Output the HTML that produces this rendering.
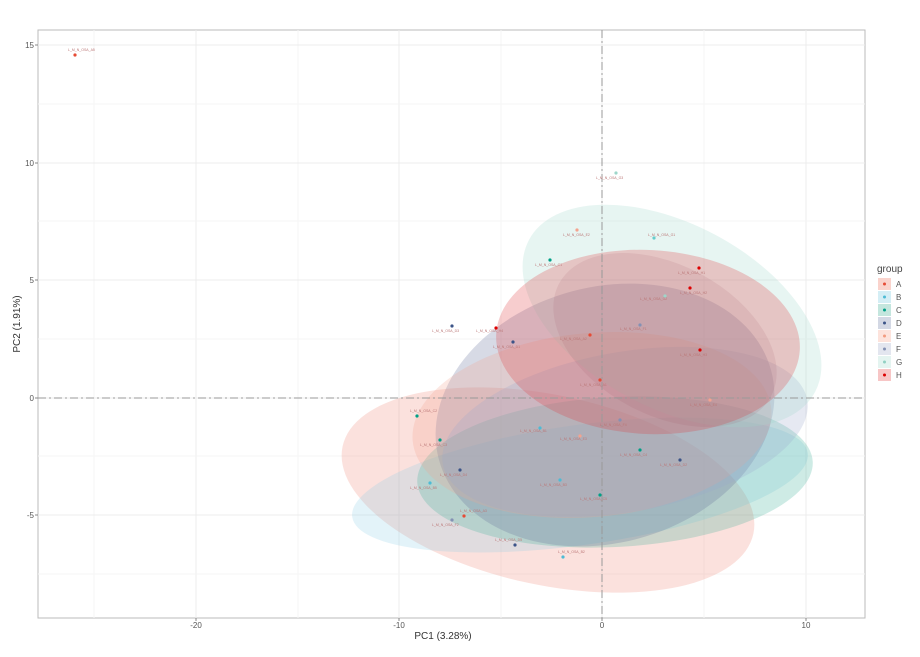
<!DOCTYPE html>
<html><head><meta charset="utf-8"><style>body{margin:0;background:#fff}svg{display:block;font-family:"Liberation Sans",sans-serif}</style></head><body>
<svg width="920" height="657" viewBox="0 0 920 657">
<rect x="38" y="30" width="827" height="588" fill="#fff" stroke="#bbb" stroke-width="1"/>
<g stroke="#ececec" stroke-width="1">
<line x1="196" y1="30" x2="196" y2="618"/><line x1="399" y1="30" x2="399" y2="618"/><line x1="602" y1="30" x2="602" y2="618"/><line x1="806" y1="30" x2="806" y2="618"/>
<line x1="94" y1="30" x2="94" y2="618" stroke="#f5f5f5"/><line x1="298" y1="30" x2="298" y2="618" stroke="#f5f5f5"/><line x1="501" y1="30" x2="501" y2="618" stroke="#f5f5f5"/><line x1="704" y1="30" x2="704" y2="618" stroke="#f5f5f5"/>
<line x1="38" y1="45" x2="865" y2="45"/><line x1="38" y1="163" x2="865" y2="163"/><line x1="38" y1="280" x2="865" y2="280"/><line x1="38" y1="398" x2="865" y2="398"/><line x1="38" y1="515" x2="865" y2="515"/>
<line x1="38" y1="104" x2="865" y2="104" stroke="#f5f5f5"/><line x1="38" y1="221" x2="865" y2="221" stroke="#f5f5f5"/><line x1="38" y1="339" x2="865" y2="339" stroke="#f5f5f5"/><line x1="38" y1="456" x2="865" y2="456" stroke="#f5f5f5"/><line x1="38" y1="574" x2="865" y2="574" stroke="#f5f5f5"/>
</g>
<g fill-opacity="0.25">
<ellipse cx="548" cy="490" rx="210" ry="95" transform="rotate(12 548 490)" fill="#F08878"/>
<ellipse cx="580" cy="485" rx="230" ry="60" transform="rotate(-8 580 485)" fill="#8ECFE6"/>
<ellipse cx="615" cy="472" rx="198" ry="75" transform="rotate(-3 615 472)" fill="#3AAF97"/>
<ellipse cx="605" cy="415" rx="172" ry="128" transform="rotate(-15 605 415)" fill="#5F6C96"/>
<ellipse cx="592" cy="425" rx="180" ry="92" transform="rotate(-5 592 425)" fill="#F4A38F"/>
<ellipse cx="625" cy="432" rx="185" ry="80" transform="rotate(-10 625 432)" fill="#9AA6CC"/>
<ellipse cx="672" cy="316" rx="162" ry="92" transform="rotate(28 672 316)" fill="#9ED6CA"/>
<ellipse cx="648" cy="342" rx="152" ry="92" transform="rotate(3 648 342)" fill="#E0383B"/>
<ellipse cx="665" cy="340" rx="120" ry="75" transform="rotate(28 665 340)" fill="#A05060" fill-opacity="0.12"/>
</g>
<g stroke="#999" stroke-dasharray="8,3,2,3" stroke-width="1"><line x1="602" y1="30" x2="602" y2="618"/><line x1="38" y1="398" x2="865" y2="398"/></g>
<g font-size="3.5" fill="#b77">
<text x="68" y="51">L_M_N_OSA_A5</text><circle cx="75" cy="55" r="1.6" fill="#E64B35"/>
<text x="596" y="179">L_M_N_OSA_G3</text><circle cx="616" cy="173" r="1.6" fill="#9ED6CA"/>
<text x="563" y="236">L_M_N_OSA_E2</text><circle cx="577" cy="230" r="1.6" fill="#F4A38F"/>
<text x="648" y="236">L_M_N_OSA_G1</text><circle cx="654" cy="238" r="1.6" fill="#6cc"/>
<text x="432" y="332">L_M_N_OSA_D3</text><circle cx="452" cy="326" r="1.6" fill="#3C5488"/>
<text x="678" y="274">L_M_N_OSA_H1</text><circle cx="699" cy="268" r="1.6" fill="#D00"/>
<text x="680" y="294">L_M_N_OSA_H2</text><circle cx="690" cy="288" r="1.6" fill="#D00"/>
<text x="410" y="412">L_M_N_OSA_C2</text><circle cx="417" cy="416" r="1.6" fill="#00A087"/>
<text x="460" y="512">L_M_N_OSA_A3</text><circle cx="464" cy="516" r="1.6" fill="#E64B35"/>
<text x="495" y="541">L_M_N_OSA_D5</text><circle cx="515" cy="545" r="1.6" fill="#3C5488"/>
<text x="558" y="553">L_M_N_OSA_B2</text><circle cx="563" cy="557" r="1.6" fill="#4DBBD5"/>
<text x="410" y="489">L_M_N_OSA_B5</text><circle cx="430" cy="483" r="1.6" fill="#4DBBD5"/>
<text x="432" y="526">L_M_N_OSA_F2</text><circle cx="452" cy="520" r="1.6" fill="#8491B4"/>
<text x="535" y="266">L_M_N_OSA_C1</text><circle cx="550" cy="260" r="1.6" fill="#00A087"/>
<text x="476" y="332">L_M_N_OSA_H4</text><circle cx="496" cy="328" r="1.6" fill="#D00"/>
<text x="493" y="348">L_M_N_OSA_D1</text><circle cx="513" cy="342" r="1.6" fill="#3C5488"/>
<text x="620" y="456">L_M_N_OSA_C4</text><circle cx="640" cy="450" r="1.6" fill="#00A087"/>
<text x="660" y="466">L_M_N_OSA_D2</text><circle cx="680" cy="460" r="1.6" fill="#3C5488"/>
<text x="580" y="386">L_M_N_OSA_A1</text><circle cx="600" cy="380" r="1.6" fill="#E64B35"/>
<text x="540" y="486">L_M_N_OSA_B3</text><circle cx="560" cy="480" r="1.6" fill="#4DBBD5"/>
<text x="600" y="426">L_M_N_OSA_F4</text><circle cx="620" cy="420" r="1.6" fill="#8491B4"/>
<text x="680" y="356">L_M_N_OSA_H3</text><circle cx="700" cy="350" r="1.6" fill="#D00"/>
<text x="440" y="476">L_M_N_OSA_D4</text><circle cx="460" cy="470" r="1.6" fill="#3C5488"/>
<text x="420" y="446">L_M_N_OSA_C3</text><circle cx="440" cy="440" r="1.6" fill="#00A087"/>
<text x="690" y="406">L_M_N_OSA_E4</text><circle cx="710" cy="400" r="1.6" fill="#F4A38F"/>
<text x="560" y="340">L_M_N_OSA_A2</text><circle cx="590" cy="335" r="1.6" fill="#E64B35"/>
<text x="640" y="300">L_M_N_OSA_G2</text><circle cx="665" cy="296" r="1.6" fill="#9ED6CA"/>
<text x="620" y="330">L_M_N_OSA_F1</text><circle cx="640" cy="325" r="1.6" fill="#8491B4"/>
<text x="560" y="440">L_M_N_OSA_E3</text><circle cx="580" cy="436" r="1.6" fill="#F4A38F"/>
<text x="580" y="500">L_M_N_OSA_C5</text><circle cx="600" cy="495" r="1.6" fill="#00A087"/>
<text x="520" y="432">L_M_N_OSA_B1</text><circle cx="540" cy="428" r="1.6" fill="#4DBBD5"/>
</g>
<g font-size="8" fill="#555" text-anchor="end">
<text x="34" y="48">15</text><text x="34" y="166">10</text><text x="34" y="283">5</text><text x="34" y="401">0</text><text x="34" y="518">-5</text>
</g>
<g font-size="8" fill="#555" text-anchor="middle">
<text x="196" y="628">-20</text><text x="399" y="628">-10</text><text x="602" y="628">0</text><text x="806" y="628">10</text>
</g>
<g stroke="#888"><line x1="35" y1="45" x2="38" y2="45"/><line x1="35" y1="163" x2="38" y2="163"/><line x1="35" y1="280" x2="38" y2="280"/><line x1="35" y1="398" x2="38" y2="398"/><line x1="35" y1="515" x2="38" y2="515"/>
<line x1="196" y1="618" x2="196" y2="621"/><line x1="399" y1="618" x2="399" y2="621"/><line x1="602" y1="618" x2="602" y2="621"/><line x1="806" y1="618" x2="806" y2="621"/></g>
<text x="443" y="639" font-size="10" fill="#333" text-anchor="middle">PC1 (3.28%)</text>
<text x="20" y="324" font-size="10" fill="#333" text-anchor="middle" transform="rotate(-90 20 324)">PC2 (1.91%)</text>
<text x="877" y="272" font-size="10" fill="#444">group</text>
<g font-size="8" fill="#555">
<rect x="878" y="278" width="13" height="12" fill="#FAD3CC"/><circle cx="884.5" cy="284" r="1.5" fill="#E64B35"/><text x="896" y="287">A</text>
<rect x="878" y="291" width="13" height="12" fill="#D4EEF5"/><circle cx="884.5" cy="297" r="1.5" fill="#4DBBD5"/><text x="896" y="300">B</text>
<rect x="878" y="304" width="13" height="12" fill="#C4E6DE"/><circle cx="884.5" cy="310" r="1.5" fill="#00A087"/><text x="896" y="313">C</text>
<rect x="878" y="317" width="13" height="12" fill="#D3D8E4"/><circle cx="884.5" cy="323" r="1.5" fill="#3C5488"/><text x="896" y="326">D</text>
<rect x="878" y="330" width="13" height="12" fill="#FDE3DC"/><circle cx="884.5" cy="336" r="1.5" fill="#F39B7F"/><text x="896" y="339">E</text>
<rect x="878" y="343" width="13" height="12" fill="#E3E6EF"/><circle cx="884.5" cy="349" r="1.5" fill="#8491B4"/><text x="896" y="352">F</text>
<rect x="878" y="356" width="13" height="12" fill="#E4F4F0"/><circle cx="884.5" cy="362" r="1.5" fill="#91D1C2"/><text x="896" y="365">G</text>
<rect x="878" y="369" width="13" height="12" fill="#F7C6C6"/><circle cx="884.5" cy="375" r="1.5" fill="#DC0000"/><text x="896" y="378">H</text>
</g>
</svg>
</body></html>
